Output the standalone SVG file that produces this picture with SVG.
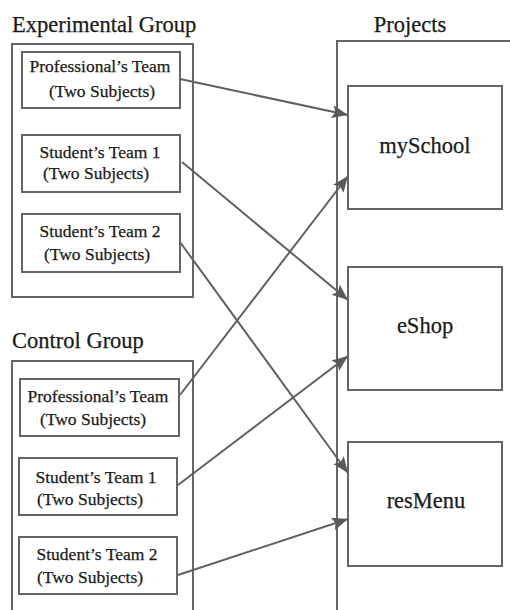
<svg xmlns="http://www.w3.org/2000/svg" width="510" height="610" viewBox="0 0 510 610">
<defs>
<marker id="ah" markerUnits="userSpaceOnUse" markerWidth="18" markerHeight="14" refX="16" refY="6.5" orient="auto">
<path d="M0,0 L16,6.5 L0,13 L3,6.5 z" fill="#5a5a5a"/>
</marker>
</defs>
<style>
.box{fill:none;stroke:#666;stroke-width:2}
.frame{fill:none;stroke:#666;stroke-width:2}
.t{font-family:"Liberation Serif","Times New Roman",serif;fill:#1a1a1a;text-anchor:middle;stroke:#1a1a1a;stroke-width:0.25}
.s{font-size:17.5px}
.h{font-size:22.5px}
.p{font-size:22.5px}
.c{fill:none;stroke:#606060;stroke-width:2;marker-end:url(#ah)}
</style>
<rect width="510" height="610" fill="#fff"/>

<g id="experimental-group">
<text class="t h" x="12" y="32" style="text-anchor:start">Experimental Group</text>
<rect class="frame" x="12" y="44" width="181" height="253"/>
</g>
<g id="exp-professional">
<rect class="box" x="22" y="52" width="158" height="56"/>
<text class="t s" x="100" y="72">Professional’s Team</text>
<text class="t s" x="102" y="97">(Two Subjects)</text>
</g>
<g id="exp-student1">
<rect class="box" x="22" y="135" width="158" height="57"/>
<text class="t s" x="100" y="158">Student’s Team 1</text>
<text class="t s" x="96" y="179">(Two Subjects)</text>
</g>
<g id="exp-student2">
<rect class="box" x="22" y="214" width="158" height="58"/>
<text class="t s" x="100" y="237">Student’s Team 2</text>
<text class="t s" x="97" y="260">(Two Subjects)</text>
</g>

<g id="control-group">
<text class="t h" x="12" y="348" style="text-anchor:start">Control Group</text>
<path class="frame" d="M12,612 V361 H193 V612"/>
</g>
<g id="ctrl-professional">
<rect class="box" x="20" y="379" width="159" height="57"/>
<text class="t s" x="98" y="402">Professional’s Team</text>
<text class="t s" x="93" y="425">(Two Subjects)</text>
</g>
<g id="ctrl-student1">
<rect class="box" x="19" y="458" width="158" height="57"/>
<text class="t s" x="96" y="483">Student’s Team 1</text>
<text class="t s" x="90" y="505">(Two Subjects)</text>
</g>
<g id="ctrl-student2">
<rect class="box" x="19" y="537" width="158" height="57"/>
<text class="t s" x="97" y="560">Student’s Team 2</text>
<text class="t s" x="90" y="583">(Two Subjects)</text>
</g>

<g id="projects">
<text class="t p" x="410" y="32">Projects</text>
<path class="frame" d="M337,612 V41 H512"/>
</g>
<g id="myschool">
<rect class="box" x="348" y="86" width="154" height="123"/>
<text class="t p" x="425" y="153">mySchool</text>
</g>
<g id="eshop">
<rect class="box" x="348" y="267" width="154" height="123"/>
<text class="t p" x="425" y="333">eShop</text>
</g>
<g id="resmenu">
<rect class="box" x="348" y="442" width="154" height="124"/>
<text class="t p" x="426" y="508">resMenu</text>
</g>

<g id="connectors">
<line class="c" x1="180" y1="79" x2="348" y2="115"/>
<line class="c" x1="182" y1="162" x2="348" y2="300"/>
<line class="c" x1="180" y1="242" x2="348" y2="473"/>
<line class="c" x1="180" y1="395" x2="348" y2="176"/>
<line class="c" x1="178" y1="485" x2="348" y2="356"/>
<line class="c" x1="178" y1="575" x2="348" y2="519"/>
</g>
</svg>
